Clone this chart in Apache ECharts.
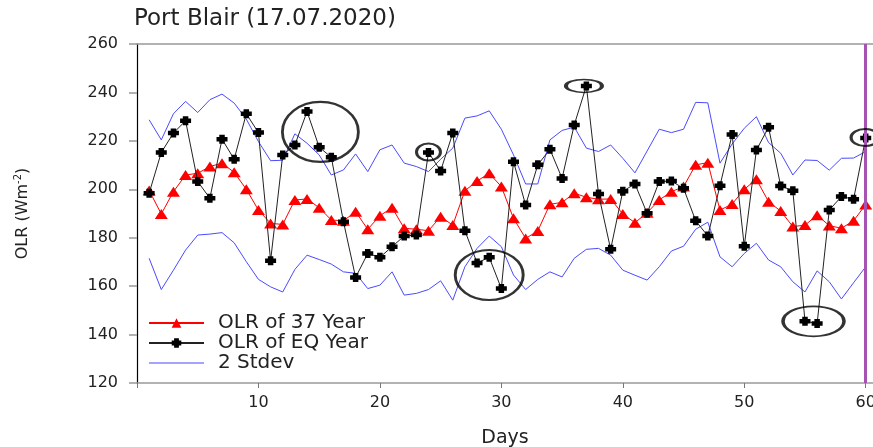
<!DOCTYPE html>
<html><head><meta charset="utf-8">
<script src="https://cdn.jsdelivr.net/npm/echarts@6/dist/echarts.min.js"></script>
<style>html,body{margin:0;padding:0;background:#fff}#c{width:873px;height:447px}</style>
</head><body><div id="c"></div>
<script>
const days = Array.from({length: 60}, (_, i) => i + 1);
const olr37Year = [199.5,189.8,199,205.9,206.6,209.4,210.8,207,200,191.4,185.9,185.5,195.6,196,192.4,187.3,187,190.7,183.5,189.1,
  192.4,183.9,183.5,182.9,188.7,185.2,199.4,203.4,206.6,201.1,188,179.7,182.8,193.8,194.6,198.4,196.7,195.9,196,189.8,
  186.2,190.3,195.6,199,201.1,210.1,211,191.4,193.9,200,204.1,194.9,191,184.6,185.2,189.3,185,183.9,187,193.7];
const olrEqYear = [198.4,215.2,223.2,228.3,203.2,196.3,220.7,212.4,231.2,223.4,170.5,214.2,218.3,232.1,217.4,213.2,186.6,163.6,173.5,171.9,
  176.3,180.7,181.1,215.2,207.6,223.2,182.9,169.6,171.9,159,211.4,193.5,210.1,216.5,204.5,226.6,242.7,198.1,175.2,199.2,
  202.2,190.1,203.2,203.4,200.4,187,180.7,201.5,222.6,176.5,216.2,225.6,201.4,199.4,145.5,144.6,191.4,197,195.9,221.2];
const stdevUpper = [228.7,220.4,231.2,236.3,231.7,237,239.3,235.6,229,219.7,211.8,212,222.9,219,214.2,205.9,208,214.6,207.3,216.3,
  218.3,210.8,209.4,207.3,212.4,217,229.4,230.3,232.4,224.8,214.2,202.2,202.2,220.4,224.3,225.7,217,215.6,218.3,212.8,
  206.8,215.8,224.8,223.4,224.8,235.9,235.7,210.8,218.7,225.2,230,219.3,214.9,205.9,212.1,211.9,207.9,212.8,212.9,215.6];
const stdevLower = [171.5,158.6,166.6,174.9,181.1,181.5,182.1,177.9,170.1,162.8,159.7,157.6,166.9,172.8,171,169.1,165.9,165.3,159,160.4,
  165.9,156.3,157,158.6,162.2,154.2,168,175.6,180.7,176.3,164.6,158.6,162.8,165.9,163.8,171.5,175.2,175.6,172.8,166.6,
  164.5,162.5,168,174.5,176.5,183.5,186.4,172.1,168,173.5,177.7,170.8,168,161.8,157.6,166.3,161.8,154.7,161.4,168];
// annotation ellipses (centres in data units)
const annotDays = [15.1, 24, 29, 36.8, 55.7, 59.95];
const annotValues = [223.7, 215.4, 164.6, 242.7, 145.5, 221.4];
const annotSizes = [[76,60],[24,17],[68,50],[36,13],[61,30],[28,17]];
const eqDay = 60;
const yTicks = [120,140,160,180,200,220,240,260];
const xTicks = [10,20,30,40,50,60];

const FONT = 'DejaVu Sans';
const pair = arr => days.map((d, i) => [d, arr[i]]);
const plusPath = 'path://M2.5,0 L7.5,0 L7.5,2.5 L10,2.5 L10,7.5 L7.5,7.5 L7.5,10 L2.5,10 L2.5,7.5 L0,7.5 L0,2.5 L2.5,2.5 Z';
const lineIcon = 'path://M0,0 L55,0 L55,1.2 L0,1.2 Z';
const BLUE = '#4a4aff';

const chart = echarts.init(document.getElementById('c'));
chart.setOption({
  animation: false,
  backgroundColor: '#fff',
  textStyle: { fontFamily: FONT },
  title: {
    text: 'Port Blair (17.07.2020)', left: 134, top: 8, padding: 0,
    textStyle: { fontFamily: FONT, fontSize: 23, fontWeight: 'normal', color: '#222' }
  },
  grid: { left: 137, right: 0, top: 44, bottom: 64, outerBoundsMode: 'none', containLabel: false },
  legend: {
    orient: 'vertical', left: 148, top: 313, padding: 0,
    itemWidth: 55, itemHeight: 12, itemGap: 0,
    data: ['OLR of 37 Year', 'OLR of EQ Year', { name: '2 Stdev', icon: lineIcon, itemStyle: { color: BLUE } }],
    textStyle: { fontFamily: FONT, fontSize: 20, color: '#222', lineHeight: 20, padding: [0,0,0,9] }
  },
  xAxis: [{
    type: 'value', min: 0, max: 60.6, interval: 10, position: 'bottom',
    name: 'Days', nameLocation: 'middle', nameGap: 46,
    nameTextStyle: { fontFamily: FONT, fontSize: 19, color: '#222' },
    axisLine: { show: true, onZero: false, lineStyle: { color: '#999', width: 1.5 } },
    axisTick: { show: true, length: 5, lineStyle: { color: '#777' } },
    axisLabel: { show: true, margin: 12, fontFamily: FONT, fontSize: 16, color: '#222',
      formatter: v => xTicks.includes(v) ? String(v) : '' },
    splitLine: { show: false }
  }, {
    type: 'value', min: 0, max: 60.6, position: 'top',
    axisLine: { show: true, onZero: false, lineStyle: { color: '#999', width: 1.5 } },
    axisTick: { show: false }, axisLabel: { show: false }, splitLine: { show: false }
  }],
  yAxis: {
    type: 'value', min: yTicks[0], max: yTicks[yTicks.length - 1], interval: 20,
    name: 'OLR (Wm{sup|-2})', nameLocation: 'middle', nameGap: 104, nameRotate: 90,
    nameTextStyle: { fontFamily: FONT, fontSize: 16, color: '#222',
      rich: { sup: { fontFamily: FONT, fontSize: 10, color: '#222', verticalAlign: 'bottom', padding: [0,0,10,0] } } },
    axisLine: { show: true, onZero: false, lineStyle: { color: '#000', width: 1.2 } },
    axisTick: { show: true, length: 8, lineStyle: { color: '#999', width: 1.5 } },
    axisLabel: { margin: 19, fontFamily: FONT, fontSize: 16, color: '#222' },
    splitLine: { show: false }
  },
  series: [
    { name: '2 Stdev', type: 'line', data: pair(stdevUpper), showSymbol: false, symbol: 'none',
      lineStyle: { color: BLUE, width: 1 }, itemStyle: { color: BLUE }, z: 2 },
    { name: '2 Stdev', type: 'line', data: pair(stdevLower), showSymbol: false, symbol: 'none',
      lineStyle: { color: BLUE, width: 1 }, itemStyle: { color: BLUE }, z: 2 },
    { name: 'OLR of 37 Year', type: 'line', data: pair(olr37Year), symbol: 'triangle', symbolSize: [13, 10],
      lineStyle: { color: '#ff0000', width: 1 }, itemStyle: { color: '#ff0000' }, z: 3 },
    { name: 'OLR of EQ Year', type: 'line', data: pair(olrEqYear), symbol: plusPath, symbolSize: [11, 9],
      lineStyle: { color: '#222', width: 1 }, itemStyle: { color: '#000' }, z: 4 },
    { name: 'annot', type: 'scatter', silent: true, z: 5,
      data: annotDays.map((d, i) => ({ value: [d, annotValues[i]], symbolSize: annotSizes[i] })),
      symbol: 'circle',
      itemStyle: { color: 'rgba(0,0,0,0)', borderColor: '#000', borderWidth: 2.5 },
      markLine: { silent: true, symbol: 'none', label: { show: false },
        lineStyle: { color: '#a652b2', width: 3, type: 'solid' }, data: [{ xAxis: eqDay }] } }
  ]
});
</script>
</body></html>
